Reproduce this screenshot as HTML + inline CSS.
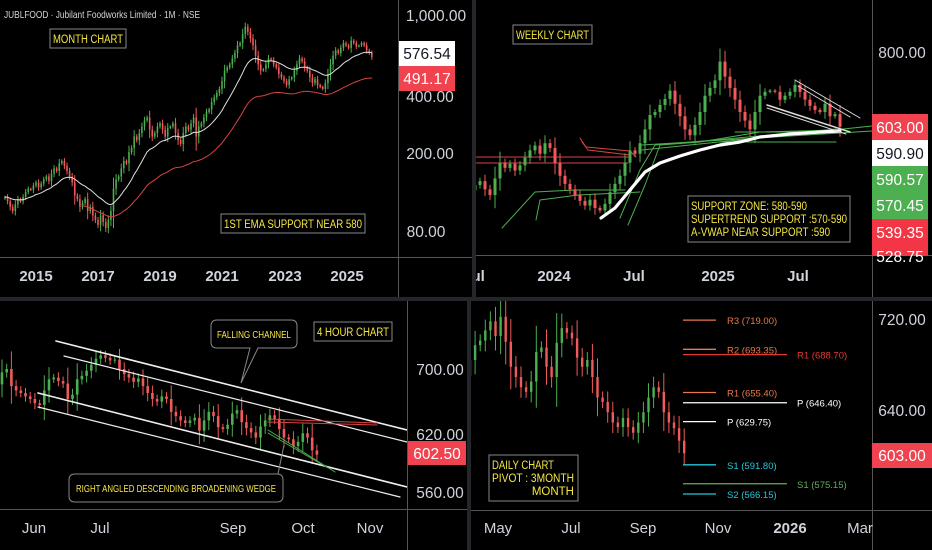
<!DOCTYPE html>
<html><head><meta charset="utf-8"><style>
html,body{margin:0;padding:0;background:#000;}
svg{display:block;font-family:"Liberation Sans",sans-serif;}
</style></head><body>
<svg id="c" width="932" height="550" viewBox="0 0 932 550">
<rect x="0" y="0" width="932" height="550" fill="#000"/>
<defs>
<clipPath id="p1"><rect x="0" y="0" width="398" height="257"/></clipPath>
<clipPath id="p2"><rect x="476" y="0" width="396" height="255"/></clipPath>
<clipPath id="p3"><rect x="0" y="301" width="407" height="208"/></clipPath>
<clipPath id="p4"><rect x="471" y="301" width="401" height="208"/></clipPath>
<clipPath id="p2all"><rect x="476" y="0" width="456" height="297"/></clipPath>
</defs>
<g id="g1" clip-path="url(#p1)"></g>
<g id="g2" clip-path="url(#p2)"></g>
<g id="g3" clip-path="url(#p3)"></g>
<g id="g4" clip-path="url(#p4)"></g>

<!-- separators -->
<rect x="0" y="297" width="932" height="4" fill="#24262b"/>
<rect x="472" y="0" width="4" height="297" fill="#24262b"/>
<rect x="467" y="301" width="4" height="249" fill="#24262b"/>
<line x1="0" y1="257.5" x2="472" y2="257.5" stroke="#555"/>
<line x1="398.5" y1="0" x2="398.5" y2="297" stroke="#555"/>
<line x1="476" y1="255.5" x2="932" y2="255.5" stroke="#555"/>
<line x1="872.5" y1="0" x2="872.5" y2="297" stroke="#555"/>
<line x1="0" y1="509.5" x2="467" y2="509.5" stroke="#555"/>
<line x1="407.5" y1="301" x2="407.5" y2="550" stroke="#555"/>
<line x1="471" y1="510.5" x2="932" y2="510.5" stroke="#555"/>
<line x1="872.5" y1="301" x2="872.5" y2="550" stroke="#555"/>

<!-- panel 1 texts -->
<text x="4" y="18" fill="#d1d4dc" font-size="10.5" textLength="196" lengthAdjust="spacingAndGlyphs">JUBLFOOD · Jubilant Foodworks Limited · 1M · NSE</text>
<g><rect x="50" y="29" width="76" height="19" fill="#000" stroke="#888"/><text x="53" y="43" fill="#f5e642" font-size="11.5" textLength="70" lengthAdjust="spacingAndGlyphs">MONTH CHART</text></g>
<g><rect x="221" y="214" width="144" height="19" fill="#000" stroke="#888"/><text x="224" y="228" fill="#f5e642" font-size="11.5" textLength="138" lengthAdjust="spacingAndGlyphs">1ST EMA SUPPORT NEAR 580</text></g>
<g fill="#d1d4dc" font-size="15.5" text-anchor="middle">
<text x="436" y="21">1,000.00</text><text x="430" y="102">400.00</text><text x="430" y="159">200.00</text><text x="426" y="237">80.00</text></g>
<rect x="399" y="41" width="56" height="25" fill="#fff"/>
<text x="427" y="59" fill="#131722" font-size="15.5" text-anchor="middle">576.54</text>
<rect x="399" y="66" width="56" height="25" fill="#f0434f"/>
<text x="427" y="84" fill="#fff" font-size="15.5" text-anchor="middle">491.17</text>
<g fill="#d1d4dc" font-size="15" font-weight="bold" text-anchor="middle">
<text x="36" y="281">2015</text><text x="98" y="281">2017</text><text x="160" y="281">2019</text><text x="222" y="281">2021</text><text x="285" y="281">2023</text><text x="347" y="281">2025</text></g>

<!-- panel 2 texts -->
<g><rect x="513" y="25" width="79" height="19" fill="#000" stroke="#888"/><text x="516" y="39" fill="#f5e642" font-size="11.5" textLength="73" lengthAdjust="spacingAndGlyphs">WEEKLY CHART</text></g>
<g><rect x="688" y="196" width="162" height="46" fill="#000" stroke="#888"/>
<text x="691" y="210" fill="#f5e642" font-size="11.5" textLength="116" lengthAdjust="spacingAndGlyphs">SUPPORT ZONE: 580-590</text>
<text x="691" y="223" fill="#f5e642" font-size="11.5" textLength="156" lengthAdjust="spacingAndGlyphs">SUPERTREND SUPPORT :570-590</text>
<text x="691" y="236" fill="#f5e642" font-size="11.5" textLength="139" lengthAdjust="spacingAndGlyphs">A-VWAP NEAR SUPPORT :590</text></g>
<text x="902" y="58" fill="#d1d4dc" font-size="15.5" text-anchor="middle">800.00</text>
<g clip-path="url(#p2all)">
<rect x="872" y="114" width="56" height="26" fill="#f0434f"/><text x="900" y="133" fill="#fff" font-size="15.5" text-anchor="middle">603.00</text>
<rect x="872" y="140" width="56" height="26" fill="#fff"/><text x="900" y="159" fill="#131722" font-size="15.5" text-anchor="middle">590.90</text>
<rect x="872" y="166" width="56" height="53" fill="#4caf50"/><text x="900" y="185" fill="#fff" font-size="15.5" text-anchor="middle">590.57</text><text x="900" y="211" fill="#fff" font-size="15.5" text-anchor="middle">570.45</text>
<rect x="872" y="219" width="56" height="37" fill="#f23645"/><text x="900" y="238" fill="#fff" font-size="15.5" text-anchor="middle">539.35</text><text x="900" y="262" fill="#fff" font-size="15.5" text-anchor="middle">528.75</text>
</g>
<g clip-path="url(#p2all)" fill="#d1d4dc" font-size="15" font-weight="bold" text-anchor="middle">
<text x="474" y="281">Jul</text><text x="554" y="281">2024</text><text x="634" y="281">Jul</text><text x="718" y="281">2025</text><text x="798" y="281">Jul</text></g>

<!-- panel 3 texts -->
<g>
<path d="M217,320 H291 Q297,320 297,326 V342 Q297,348 291,348 H258 L241,383 L250,348 H217 Q211,348 211,342 V326 Q211,320 217,320 Z" fill="#000" stroke="#888"/>
<text x="217" y="338" fill="#f5e642" font-size="10.5" textLength="74" lengthAdjust="spacingAndGlyphs">FALLING CHANNEL</text></g>
<g><rect x="314" y="322" width="78" height="19" fill="#000" stroke="#888"/><text x="317" y="336" fill="#f5e642" font-size="11.5" textLength="72" lengthAdjust="spacingAndGlyphs">4 HOUR CHART</text></g>
<g>
<path d="M75,474 H277 Q283,474 283,480 V496 Q283,502 277,502 H75 Q69,502 69,496 V480 Q69,474 75,474 Z" fill="#000" stroke="#888"/>
<path d="M278,474 L284,445" stroke="#888" fill="none"/>
<text x="76" y="492" fill="#f5e642" font-size="10.5" textLength="200" lengthAdjust="spacingAndGlyphs">RIGHT ANGLED DESCENDING BROADENING WEDGE</text></g>
<g fill="#d1d4dc" font-size="15.5" text-anchor="middle">
<text x="440" y="375">700.00</text><text x="440" y="440">620.00</text><text x="440" y="498">560.00</text></g>
<rect x="408" y="441" width="58" height="24" fill="#f0434f"/>
<text x="437" y="459" fill="#fff" font-size="15.5" text-anchor="middle">602.50</text>
<g fill="#d1d4dc" font-size="15" text-anchor="middle">
<text x="34" y="533">Jun</text><text x="100" y="533">Jul</text><text x="233" y="533">Sep</text><text x="303" y="533">Oct</text><text x="370" y="533">Nov</text></g>

<!-- panel 4 texts -->
<g><rect x="489" y="455" width="89" height="46" fill="#000" stroke="#888"/>
<text x="492" y="469" fill="#f5e642" font-size="11.5" textLength="62" lengthAdjust="spacingAndGlyphs">DAILY CHART</text>
<text x="492" y="482" fill="#f5e642" font-size="11.5" textLength="82" lengthAdjust="spacingAndGlyphs">PIVOT : 3MONTH</text>
<text x="574" y="495" fill="#f5e642" font-size="11.5" text-anchor="end">MONTH</text></g>
<g fill="#d1d4dc" font-size="15.5" text-anchor="middle">
<text x="902" y="325">720.00</text><text x="902" y="416">640.00</text></g>
<rect x="872" y="443" width="60" height="25" fill="#f0434f"/>
<text x="902" y="461" fill="#fff" font-size="15.5" text-anchor="middle">603.00</text>
<g fill="#d1d4dc" font-size="15" text-anchor="middle">
<text x="498" y="533">May</text><text x="571" y="533">Jul</text><text x="643" y="533">Sep</text><text x="718" y="533">Nov</text><text x="790" y="533" font-weight="bold">2026</text><text x="860" y="533">Mar</text></g>
</svg>
<script>
// ---- data ----
const monthlyCloses = [118,112,105,100,108,115,112,118,125,130,128,135,
140,132,138,145,150,142,155,165,160,175,180,170,
160,150,140,120,115,105,110,115,100,105,95,90,
85,95,88,82,90,100,130,145,150,165,180,175,
200,210,240,230,250,270,290,300,260,240,250,270,
280,260,240,265,270,280,250,230,220,250,270,260,
280,300,240,270,280,300,320,330,360,380,400,420,
460,520,540,560,600,640,700,720,800,870,820,760,
700,620,560,520,530,560,600,590,560,540,500,480,
460,440,470,480,520,560,600,580,540,520,480,450,
470,440,430,420,450,500,560,620,660,640,680,720,
700,680,740,720,690,700,720,700,660,640,610];
const weeklyCloses = [488,495,480,470,500,530,520,528,515,525,540,555,565,548,570,560,530,505,490,480,470,460,452,462,448,444,455,475,490,505,530,555,548,570,600,633,640,657,672,693,660,630,600,587,610,640,680,700,720,772,730,700,670,640,620,600,640,680,690,693,690,670,680,690,708,690,670,655,645,640,660,630,635,606];
const fourHourCloses = [696,700,680,675,672,668,665,660,658,675,688,690,686,683,665,670,688,692,698,705,712,716,713,710,711,700,694,690,685,689,680,672,665,662,668,665,650,645,640,637,640,643,628,640,650,645,632,630,635,648,652,638,631,626,620,633,640,646,642,630,620,618,610,615,625,620,605,600];
const dailyCloses = [684,697,701,710,718,705,722,700,678,669,660,656,665,691,695,678,669,699,712,708,703,686,678,684,669,651,647,638,629,625,633,625,620,629,638,651,660,656,638,629,624,613,602];
const pivotLevels = [["R3 (719.00)",719,"#e8784a",0],["R2 (693.35)",693.35,"#e8784a",0],["R1 (688.70)",688.7,"#e53935",1],["R1 (655.40)",655.4,"#e8784a",0],["P (646.40)",646.4,"#ffffff",1],["P (629.75)",629.75,"#ffffff",0],["S1 (591.80)",591.8,"#26c6da",0],["S1 (575.15)",575.15,"#5fae5f",1],["S2 (566.15)",566.15,"#26c6da",0]];

const NS="http://www.w3.org/2000/svg";
const UP="#4caf50", DN="#f05a5a";
function mk(tag, attrs, parent){const e=document.createElementNS(NS,tag);for(const k in attrs)e.setAttribute(k,attrs[k]);parent.appendChild(e);return e;}

function drawCandles(g, closes, x0, dx, w, y, wickFrac, name){
  for(let i=0;i<closes.length;i++){
    const c=closes[i], o=i?closes[i-1]:c*0.98;
    const hi=Math.max(o,c), lo=Math.min(o,c), rng=Math.abs(c-o)+hi*0.004;
    const h=hi+rng*wickFrac, l=lo-rng*wickFrac;
    const x=x0+i*dx, col=c>=o?UP:DN;
    const wk=mk('line',{x1:x,x2:x,y1:y(h),y2:y(l),stroke:col,'stroke-width':1},g);
    
    
    const yt=y(hi), yb=y(lo);
    const b=mk('rect',{x:x-w/2,y:yt,width:w,height:Math.max(1,yb-yt),fill:col},g);
    
    
  }
}
function ema(arr,p){const k=2/(p+1);let e=arr[0];return arr.map(v=>(e=v*k+e*(1-k)));}
function poly(g, pts, stroke, sw, name){
  const p=mk('polyline',{points:pts.map(q=>q[0].toFixed(1)+','+q[1].toFixed(1)).join(' '),fill:'none',stroke:stroke,'stroke-width':sw,'stroke-linejoin':'round','stroke-linecap':'round'},g);
  
  
  return p;
}

// ---- panel 1 monthly (log) ----
const g1=document.getElementById('g1');
const y1=p=>15+196*(3-Math.log10(p));
const x1=i=>5+i*31/12;
drawCandles(g1, monthlyCloses, 5, 31/12, 1.6, y1, 0.6, 'monthly');
const e1=ema(monthlyCloses,20), e2=ema(monthlyCloses.map(v=>v*0.8),40);
poly(g1, e1.map((v,i)=>[x1(i),y1(v)]), '#e0e0e0', 1, 'ema-fast-line');
poly(g1, e2.map((v,i)=>[x1(i),y1(v)]).slice(30), '#d84343', 1, 'ema-slow-line');

// ---- panel 2 weekly (log) ----
const g2=document.getElementById('g2');
const y2=p=>52-269*Math.log(p/800);
const x2=i=>475+i*5;
const ov=[
 [[476,157],[628,157]],[[476,163],[628,163]],[[580,138],[586,147],[630,151],[636,157]],[[582,142],[588,150],[630,155]],
 [[502,228],[535,192],[575,190],[625,190]],[[536,220],[540,200],[578,195],[640,192]],
 [[628,225],[645,185],[660,145],[700,142],[760,132],[836,130]],[[620,218],[640,170],[655,145],[715,140],[836,129]],
 [[642,150],[872,126]],[[642,145],[872,131]],[[735,132],[840,132]],[[720,142],[836,142]]
];
ov.forEach((pts,i)=>poly(g2, pts, i<4?'#d84343':'#4caf50', 1, 'weekly-supertrend-'+i));
drawCandles(g2, weeklyCloses, 475, 5, 3, y2, 0.7, 'weekly');
poly(g2, [[601,218],[615,208],[630,190],[645,172],[660,163],[680,156],[700,150],[720,145],[740,142],[760,137],[790,134],[820,132],[840,131]], '#ffffff', 3.2, 'anchored-vwap-line');
poly(g2, [[795,80],[860,118]], '#ddd', 1, 'wedge-upper-line');
poly(g2, [[798,86],[850,117]], '#ddd', 1, 'wedge-upper-inner-line');
poly(g2, [[767,105],[850,132]], '#ddd', 1.5, 'wedge-lower-line');
poly(g2, [[767,108],[846,134]], '#ddd', 1, 'wedge-lower-inner-line');

// ---- panel 3 four-hour (linear) ----
const g3=document.getElementById('g3');
const y3=p=>369+(700-p)*0.857;
drawCandles(g3, fourHourCloses, 2, 4.7, 2.6, y3, 0.9, 'four-hour');
poly(g3, [[56,341],[407,430]], '#eee', 1.6, 'channel-upper-line');
poly(g3, [[64,356],[407,442]], '#eee', 1.2, 'channel-inner-upper-line');
poly(g3, [[38,393],[407,487]], '#eee', 1.6, 'channel-lower-line');
poly(g3, [[38,407],[400,497]], '#eee', 1.2, 'channel-outer-lower-line');
poly(g3, [[268,419],[377,423]], '#d84343', 1, 'resistance-line-1');
poly(g3, [[268,422],[377,425]], '#d84343', 1, 'resistance-line-2');
poly(g3, [[268,430],[335,472]], '#4caf50', 1, 'wedge-support-line-1');
poly(g3, [[268,433],[328,468]], '#4caf50', 1, 'wedge-support-line-2');

// ---- panel 4 daily (linear) ----
const g4=document.getElementById('g4');
const y4=p=>319+(720-p)*1.1375;
drawCandles(g4, dailyCloses, 470, 5.1, 2.4, y4, 0.8, 'daily');
pivotLevels.forEach(lv=>{
  const yy=y4(lv[1]), long=lv[3];
  const ln=mk('line',{x1:683,x2:long?787:716,y1:yy,y2:yy,stroke:lv[2],'stroke-width':1.3},g4);
  
  
  const t=mk('text',{x:long?797:727,y:yy+4,fill:lv[2],'font-size':9.5},g4);
  t.textContent=lv[0];
  
  
});
</script>
</body></html>
